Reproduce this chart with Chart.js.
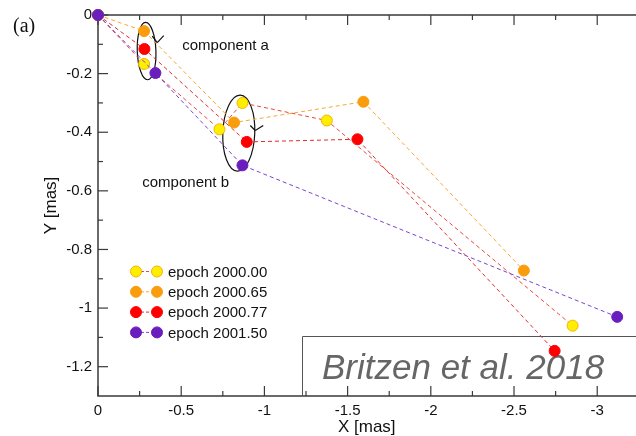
<!DOCTYPE html>
<html>
<head>
<meta charset="utf-8">
<script src="https://cdn.jsdelivr.net/npm/chart.js@4.4.1/dist/chart.umd.min.js"></script>
<style>
html, body { margin: 0; padding: 0; background: #fff; overflow: hidden; }
#wrap { width: 642px; height: 436px; position: relative; }
canvas { display: block; }
</style>
</head>
<body>
<div id="wrap"><canvas id="chart__components"></canvas></div>
<script>
// vi tri cac thanh phan theo tung epoch (mas)
const epochs = ['epoch 2000.00', 'epoch 2000.65', 'epoch 2000.77', 'epoch 2001.50']

const xEpoch0000 = [0, -0.277, -0.730, -0.868, -1.375, -2.852]
const yEpoch0000 = [0, -0.167, -0.390, -0.300, -0.360, -1.060]

const xEpoch0065 = [0, -0.277, -0.818, -1.595, -2.559]
const yEpoch0065 = [0, -0.055, -0.367, -0.296, -0.872]

const xEpoch0077 = [0, -0.279, -0.894, -1.559, -2.744]
const yEpoch0077 = [0, -0.116, -0.433, -0.424, -1.146]

const xEpoch0150 = [0, -0.345, -0.868, -3.120]
const yEpoch0150 = [0, -0.198, -0.513, -1.030]

const xTicks = [0, -0.5, -1, -1.5, -2, -2.5, -3]
const yTicks = [0, -0.2, -0.4, -0.6, -0.8, -1, -1.2]
const xMin = -3.23
const yMin = -1.3

const pointFill = ['#ffee00', '#f99d0c', '#ff0000', '#6a1ebe']
const pointBorder = ['#f0b400', '#f99d0c', '#ff0000', '#6a1ebe']
const lineColor = ['#e8483c', '#f5a833', '#e22b2b', '#7a45cc']

const FONT = '"Liberation Sans", Arial, sans-serif'

function toPoints(xs, ys) {
    return xs.map((x, i) => ({ x: x, y: ys[i] }))
}

const series = [
    toPoints(xEpoch0000, yEpoch0000),
    toPoints(xEpoch0065, yEpoch0065),
    toPoints(xEpoch0077, yEpoch0077),
    toPoints(xEpoch0150, yEpoch0150)
]

// chu thich: hai elip quanh thanh phan a va b
const ellipses = [
    { x: -0.292, y: -0.123, rx: 0.056, ry: 0.098, rot: -0.035, vx: -0.356, vy: -0.094, arms: [[-5, -6.5], [6.5, -7]] },
    { x: -0.846, y: -0.403, rx: 0.096, ry: 0.130, rot: 0.04, vx: -0.945, vy: -0.394, arms: [[-5, -5], [8, -5]] }
]
const labels = [
    { text: 'component a', x: -0.506, y: -0.106 },
    { text: 'component b', x: -0.266, y: -0.573 }
]

const framePlugin = {
    id: 'frame',
    beforeDatasetsDraw(chart) {
        const ctx = chart.ctx
        const xs = chart.scales.x, ys = chart.scales.y
        const { left, right, top, bottom } = chart.chartArea
        ctx.save()
        ctx.strokeStyle = '#3a3a3a'
        ctx.lineWidth = 1.5
        ctx.beginPath()
        ctx.moveTo(right + 2, top); ctx.lineTo(left, top); ctx.lineTo(left, bottom); ctx.lineTo(right + 2, bottom)
        ctx.stroke()

        const tick = (x1, y1, x2, y2) => { ctx.beginPath(); ctx.moveTo(x1, y1); ctx.lineTo(x2, y2); ctx.stroke() }
        ctx.lineWidth = 1.2
        xTicks.forEach((v, i) => {
            const px = xs.getPixelForValue(v)
            tick(px, bottom, px, bottom - 10)
            tick(px, top, px, top + 10)
            const m = v - 0.25
            if (m > xMin) {
                const pm = xs.getPixelForValue(m)
                tick(pm, bottom, pm, bottom - 5)
                tick(pm, top, pm, top + 5)
            }
        })
        yTicks.forEach(v => {
            const py = ys.getPixelForValue(v)
            tick(left, py, left + 10, py)
            const m = v - 0.1
            if (m > yMin + 0.001) {
                const pm = ys.getPixelForValue(m)
                tick(left, pm, left + 5, pm)
            }
        })

        // hop ghi nguon
        const bx = left + 204, by = bottom - 60
        ctx.strokeStyle = '#555'
        ctx.lineWidth = 1
        ctx.beginPath()
        ctx.moveTo(bx + 0.5, bottom); ctx.lineTo(bx + 0.5, by + 0.5); ctx.lineTo(right + 2, by + 0.5)
        ctx.stroke()
        ctx.fillStyle = '#666'
        ctx.font = 'italic 35px ' + FONT
        ctx.textBaseline = 'alphabetic'
        ctx.textAlign = 'left'
        ctx.fillText('Britzen et al. 2018', bx + 20, bottom - 17)

        // elip + mui ten
        ctx.strokeStyle = '#111'
        ctx.lineWidth = 1.2
        ellipses.forEach(e => {
            const cx = xs.getPixelForValue(e.x), cy = ys.getPixelForValue(e.y)
            const rx = Math.abs(xs.getPixelForValue(e.x + e.rx) - cx)
            const ry = Math.abs(ys.getPixelForValue(e.y + e.ry) - cy)
            ctx.beginPath()
            ctx.ellipse(cx, cy, rx, ry, e.rot, 0, Math.PI * 2)
            ctx.stroke()
            const vx = xs.getPixelForValue(e.vx), vy = ys.getPixelForValue(e.vy)
            e.arms.forEach(a => tick(vx, vy, vx + a[0], vy + a[1]))
        })

        ctx.fillStyle = '#111'
        ctx.font = '15px ' + FONT
        ctx.textBaseline = 'middle'
        labels.forEach(l => {
            ctx.fillText(l.text, xs.getPixelForValue(l.x), ys.getPixelForValue(l.y))
        })
        ctx.restore()
    },
    afterDraw(chart) {
        const ctx = chart.ctx
        ctx.save()
        // nhan (a)
        ctx.fillStyle = '#111'
        ctx.font = '20px "Liberation Serif", serif'
        ctx.textBaseline = 'middle'
        ctx.fillText('(a)', 13, 27)

        // chu giai
        ctx.font = '15px ' + FONT
        epochs.forEach((name, i) => {
            const y = 271.5 + i * 20.3
            ctx.strokeStyle = lineColor[i]
            ctx.lineWidth = 1
            ctx.setLineDash([3, 2])
            ctx.beginPath(); ctx.moveTo(136, y); ctx.lineTo(157, y); ctx.stroke()
            ctx.setLineDash([])
            ;[136, 157].forEach(px => {
                ctx.beginPath()
                ctx.arc(px, y, 5.5, 0, Math.PI * 2)
                ctx.fillStyle = pointFill[i]
                ctx.fill()
                ctx.strokeStyle = pointBorder[i]
                ctx.stroke()
            })
            ctx.fillStyle = '#111'
            ctx.fillText(name, 168, y + 1)
        })
        ctx.restore()
    }
}

const canvas = document.getElementById('chart__components')

new Chart(canvas, {
    type: 'line',
    data: {
        datasets: series.map((pts, i) => ({
            label: epochs[i],
            data: pts,
            borderColor: lineColor[i],
            borderWidth: 1,
            borderDash: [4, 3],
            backgroundColor: pointFill[i],
            pointBackgroundColor: pointFill[i],
            pointBorderColor: pointBorder[i],
            pointBorderWidth: 1,
            pointRadius: 5.5,
            tension: 0,
            fill: false,
            clip: false,
            order: i === 3 ? -1 : i
        }))
    },
    options: {
        responsive: true,
        maintainAspectRatio: false,
        animation: false,
        layout: { padding: { top: 13, right: 0, left: 0, bottom: 0 } },
        plugins: {
            legend: { display: false },
            tooltip: { enabled: false }
        },
        scales: {
            x: {
                type: 'linear',
                reverse: true,
                min: xMin,
                max: 0,
                afterBuildTicks: s => { s.ticks = xTicks.map(v => ({ value: v })) },
                afterFit: s => {
                    s.height = 40
                    s.paddingLeft = 0
                    s.paddingRight = 0 // khong chua cho nhan cuoi
                },
                grid: { display: false, drawTicks: false },
                border: { display: false },
                ticks: {
                    padding: 6,
                    color: '#111',
                    maxRotation: 0,
                    font: { family: FONT, size: 15 },
                    callback: v => String(v)
                },
                title: {
                    display: true,
                    text: 'X [mas]',
                    color: '#111',
                    padding: { top: 0, bottom: -2 },
                    font: { family: FONT, size: 17 }
                }
            },
            y: {
                type: 'linear',
                min: yMin,
                max: 0,
                afterBuildTicks: s => { s.ticks = yTicks.map(v => ({ value: v })) },
                afterFit: s => { s.width = 98 },
                grid: { display: false, drawTicks: false },
                border: { display: false },
                ticks: {
                    padding: 6,
                    color: '#111',
                    font: { family: FONT, size: 15 },
                    callback: v => String(v)
                },
                title: {
                    display: true,
                    text: 'Y [mas]',
                    color: '#111',
                    padding: { top: 41, bottom: 0 },
                    font: { family: FONT, size: 17 }
                }
            }
        }
    },
    plugins: [framePlugin]
});
</script>
</body>
</html>
